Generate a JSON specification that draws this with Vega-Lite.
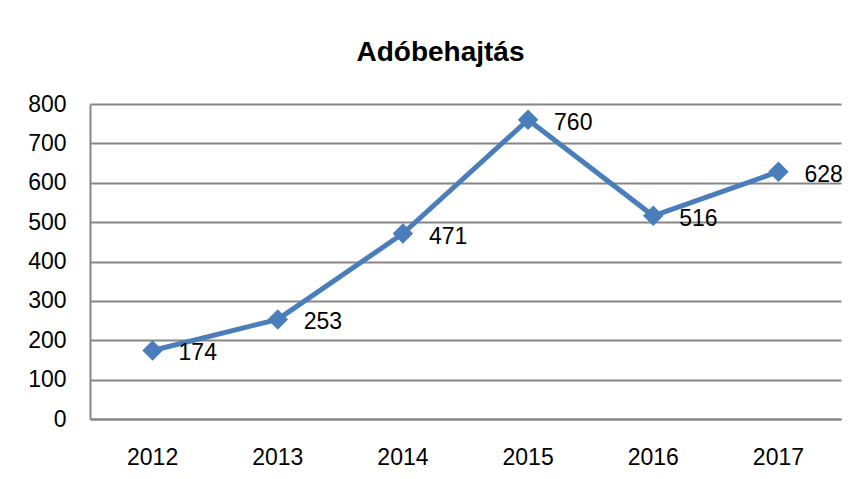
{
  "$schema": "https://vega.github.io/schema/vega-lite/v6.json",
  "width": 751,
  "height": 315,
  "autosize": {"type": "none"},
  "padding": {"left": 90, "top": 104, "right": 17, "bottom": 60},
  "background": "white",
  "title": {
    "text": "Adóbehajtás",
    "font": "Liberation Sans",
    "fontSize": 28,
    "fontWeight": "bold",
    "color": "#000000",
    "anchor": "middle",
    "dx": -25,
    "offset": 26
  },
  "config": {
    "view": {"stroke": null},
    "font": "Liberation Sans"
  },
  "data": {
    "values": [
      {"year": "2012", "value": 174},
      {"year": "2013", "value": 253},
      {"year": "2014", "value": 471},
      {"year": "2015", "value": 760},
      {"year": "2016", "value": 516},
      {"year": "2017", "value": 628}
    ]
  },
  "encoding": {
    "x": {
      "field": "year",
      "type": "ordinal",
      "scale": {"type": "band", "paddingInner": 0, "paddingOuter": 0},
      "axis": {
        "title": null,
        "labelAngle": 0,
        "labelFont": "Liberation Sans",
        "labelFontSize": 23,
        "labelColor": "#000000",
        "labelPadding": 27,
        "ticks": false,
        "grid": false,
        "domainColor": "#868686",
        "domainWidth": 2
      }
    },
    "y": {
      "field": "value",
      "type": "quantitative",
      "scale": {"domain": [0, 800], "nice": false},
      "axis": {
        "title": null,
        "values": [0, 100, 200, 300, 400, 500, 600, 700, 800],
        "labelFont": "Liberation Sans",
        "labelFontSize": 23,
        "labelColor": "#000000",
        "labelPadding": 24,
        "ticks": false,
        "gridColor": "#868686",
        "gridWidth": 2,
        "domainColor": "#868686",
        "domainWidth": 2
      }
    }
  },
  "layer": [
    {
      "mark": {
        "type": "line",
        "color": "#4A7EBB",
        "strokeWidth": 5,
        "point": {"shape": "diamond", "size": 420, "filled": true, "color": "#4A7EBB", "opacity": 1}
      }
    },
    {
      "mark": {
        "type": "text",
        "align": "left",
        "baseline": "middle",
        "dx": 26,
        "dy": 3,
        "font": "Liberation Sans",
        "fontSize": 23,
        "color": "#000000"
      },
      "encoding": {"text": {"field": "value", "type": "quantitative"}}
    }
  ]
}
